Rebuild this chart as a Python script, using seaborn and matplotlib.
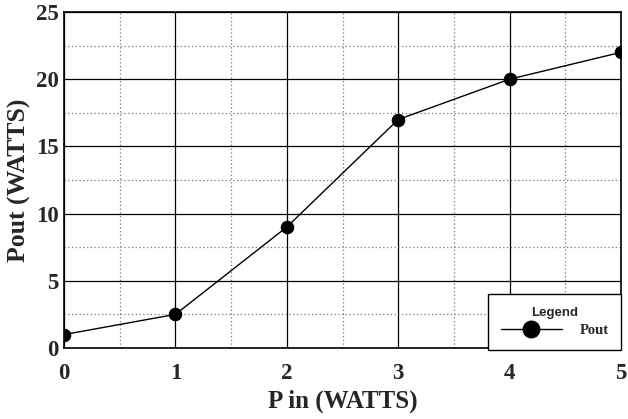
import matplotlib
matplotlib.use("Agg")
import matplotlib.pyplot as plt
import seaborn as sns
import pandas as pd
from matplotlib.ticker import MultipleLocator

p_in = [0, 1, 2, 3, 4, 5]
p_out = [1, 2.5, 9, 17, 20, 22]
x_ticks = [0, 1, 2, 3, 4, 5]
y_ticks = [0, 5, 10, 15, 20, 25]

df = pd.DataFrame({"P in (WATTS)": p_in, "Pout": p_out})

sns.set_style("white")
plt.rcParams['font.family'] = ['Liberation Serif', 'DejaVu Serif']

fig = plt.figure(figsize=(6.28, 4.19), dpi=100)
ax = fig.add_axes([64/628, 1-348/419, (621-64)/628, (348-12)/419])

sns.lineplot(data=df, x="P in (WATTS)", y="Pout", ax=ax, color="black", lw=1,
             marker="o", markersize=9, markeredgecolor="black", label="Pout")

ax.set_xlim(0, 5)
ax.set_ylim(0, 25)
ax.set_xticks(x_ticks)
ax.set_yticks(y_ticks)
ax.xaxis.set_minor_locator(MultipleLocator(0.5))
ax.yaxis.set_minor_locator(MultipleLocator(2.5))
ax.grid(which="major", color="black", lw=0.9, ls="-")
ax.grid(which="minor", color="#777777", lw=0.9, ls=(0, (1, 2)))
ax.set_axisbelow(True)
for s in ax.spines.values():
    s.set_color("black")
    s.set_linewidth(1.2)
ax.tick_params(which="both", length=0, labelsize=16.5)
ax.tick_params(axis="x", pad=11)
ax.tick_params(axis="y", pad=4)
for lab in ax.get_xticklabels() + ax.get_yticklabels():
    lab.set_fontweight("bold")
ax.set_xlabel("P in (WATTS)", fontsize=18, fontweight="bold")
ax.set_ylabel("Pout (WATTS)", fontsize=18.5, fontweight="bold")
ax.xaxis.set_label_coords(0.5, (348 - 390) / 336)
ax.yaxis.set_label_coords((31 - 64) / 557, 0.5)

leg = ax.legend(loc="lower right", title="Legend", frameon=True, fancybox=False,
                edgecolor="black", framealpha=1, borderpad=0.85, handlelength=4.2,
                handletextpad=1.2, markerscale=1.35,
                prop={"family": "Liberation Serif", "weight": "bold", "size": 10.5},
                bbox_to_anchor=(1.0, -0.005), borderaxespad=0)
leg.get_title().set_fontfamily("Liberation Sans")
leg.get_title().set_fontweight("bold")
leg.get_title().set_fontsize(9.5)
leg.get_frame().set_linewidth(1)
leg._legend_box.sep = 4

fig.savefig("out.png", dpi=100)
